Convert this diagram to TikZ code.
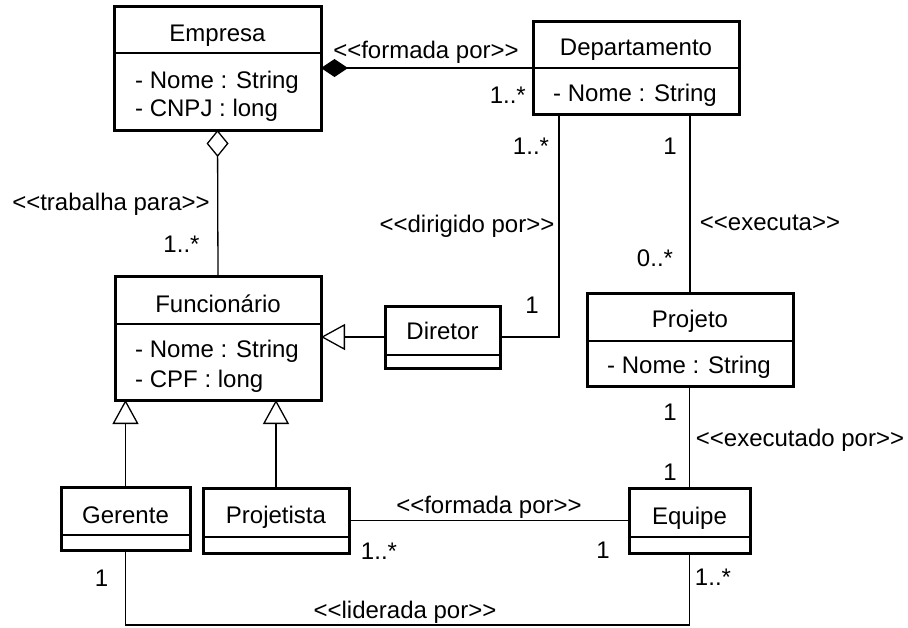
\documentclass[tikz,border=0pt]{standalone}
\usepackage{fontspec}
\setmainfont{Liberation Sans}
\usetikzlibrary{arrows.meta}
\newcommand\uLL{<\kern0pt<}
\newcommand\uRR{>\kern0pt>}
\begin{document}
\begin{tikzpicture}[x=1pt,y=-1pt,
  every node/.style={font=\fontsize{24}{28}\selectfont},
  cls/.style={draw, line width=3pt, inner sep=0pt, outer sep=0pt},
  div/.style={line width=1.3pt},
  lbl/.style={inner sep=0pt, text height=17pt, text depth=0pt},
  con/.style={line width=1.3pt},
  agg/.style={con, arrows={Diamond[open,length=27pt,width=22pt]-}},
  comp/.style={con, arrows={Diamond[length=27pt,width=18pt]-}},
  gen/.style={con, arrows={-Triangle[open,length=24pt,width=26pt]}}
]
\useasboundingbox (0,0) rectangle (908,627);

% classes
\node[cls, minimum width=207pt, minimum height=124pt] (emp) at (217.5,68) {};
\node[cls, minimum width=206pt, minimum height=93pt] (dep) at (636,67.5) {};
\node[cls, minimum width=206pt, minimum height=124pt] (fun) at (218,338) {};
\node[cls, minimum width=115pt, minimum height=62pt] (dir) at (442.5,337) {};
\node[cls, minimum width=206pt, minimum height=93pt] (proj) at (690,339.5) {};
\node[cls, minimum width=129pt, minimum height=63pt] (ger) at (125.5,518.5) {};
\node[cls, minimum width=146pt, minimum height=65pt] (pjt) at (276,520.5) {};
\node[cls, minimum width=121pt, minimum height=65pt] (equ) at (689.5,520.5) {};

% dividers
\draw[div] (emp.west |- 0,53) -- (emp.east |- 0,53);
\draw[div] (dep.west |- 0,68) -- (dep.east |- 0,68);
\draw[div] (fun.west |- 0,324) -- (fun.east |- 0,324);
\draw[div] (dir.west |- 0,355) -- (dir.east |- 0,355);
\draw[div] (proj.west |- 0,341) -- (proj.east |- 0,341);
\draw[div] (ger.west |- 0,535) -- (ger.east |- 0,535);
\draw[div] (pjt.west |- 0,537) -- (pjt.east |- 0,537);
\draw[div] (equ.west |- 0,537) -- (equ.east |- 0,537);

% class texts
\node[lbl] (empT) at (217.5,32.5) {Empresa};
\node[lbl, anchor=west] (empA1) at (135,80) {- Nome : String};
\node[lbl, anchor=west] (empA2) at (135,108) {- CNPJ : long};
\node[lbl] (depT) at (636,47) {Departamento};
\node[lbl, anchor=west] (depA1) at (553,93) {- Nome : String};
\node[lbl] (funT) at (218,303.5) {Funcionário};
\node[lbl, anchor=west] (funA1) at (135,348.5) {- Nome : String};
\node[lbl, anchor=west] (funA2) at (135,378.5) {- CPF : long};
\node[lbl] (dirT) at (442.5,331) {Diretor};
\node[lbl] (projT) at (690,318.5) {Projeto};
\node[lbl, anchor=west] (projA1) at (607,365) {- Nome : String};
\node[lbl] (gerT) at (125.5,515) {Gerente};
\node[lbl] (pjtT) at (276,515) {Projetista};
\node[lbl] (equT) at (689.5,516) {Equipe};

% connectors
\draw[comp] (emp.east) -- (dep.west |- emp.east);
\draw[agg] (emp.south) -- (fun.north);
\draw[con] ([xshift=-77pt]dep.south) |- (dir.east);
\draw[con] (dep.south -| proj.north) -- (proj.north);
\draw[gen] (dir.west) -- (fun.east |- dir.west);
\draw[gen] (ger.north) -- (ger.north |- fun.south);
\draw[gen] (pjt.north) -- (pjt.north |- fun.south);
\draw[con] (proj.south -| equ.north) -- (equ.north);
\draw[con] (pjt.east) -- (equ.west |- pjt.east);
\draw[con] (ger.south) -- ++(0,75) -| (equ.south);

% connector labels
\node[lbl] (l1) at (426,50) {\uLL formada por\uRR};
\node[lbl, anchor=east] (l2) at (526,95) {1..*};
\node[lbl] (l3) at (111,201.5) {\uLL trabalha para\uRR};
\node[lbl] (l4) at (181.5,243.5) {1..*};
\node[lbl] (l5) at (531,146) {1..*};
\node[lbl] (l6) at (467,224) {\uLL dirigido por\uRR};
\node[lbl] (l7) at (532,305) {1};
\node[lbl] (l8) at (670,146) {1};
\node[lbl] (l9) at (770,222) {\uLL executa\uRR};
\node[lbl] (l10) at (655,258) {0..*};
\node[lbl] (l11) at (670,411.5) {1};
\node[lbl] (l12) at (800,438) {\uLL executado por\uRR};
\node[lbl] (l13) at (670,471.5) {1};
\node[lbl] (l14) at (489,505) {\uLL formada por\uRR};
\node[lbl] (l15) at (379,551) {1..*};
\node[lbl] (l16) at (603,550) {1};
\node[lbl] (l17) at (405,610) {\uLL liderada por\uRR};
\node[lbl] (l18) at (101.5,578) {1};
\node[lbl] (l19) at (713,577) {1..*};
\end{tikzpicture}
\end{document}
